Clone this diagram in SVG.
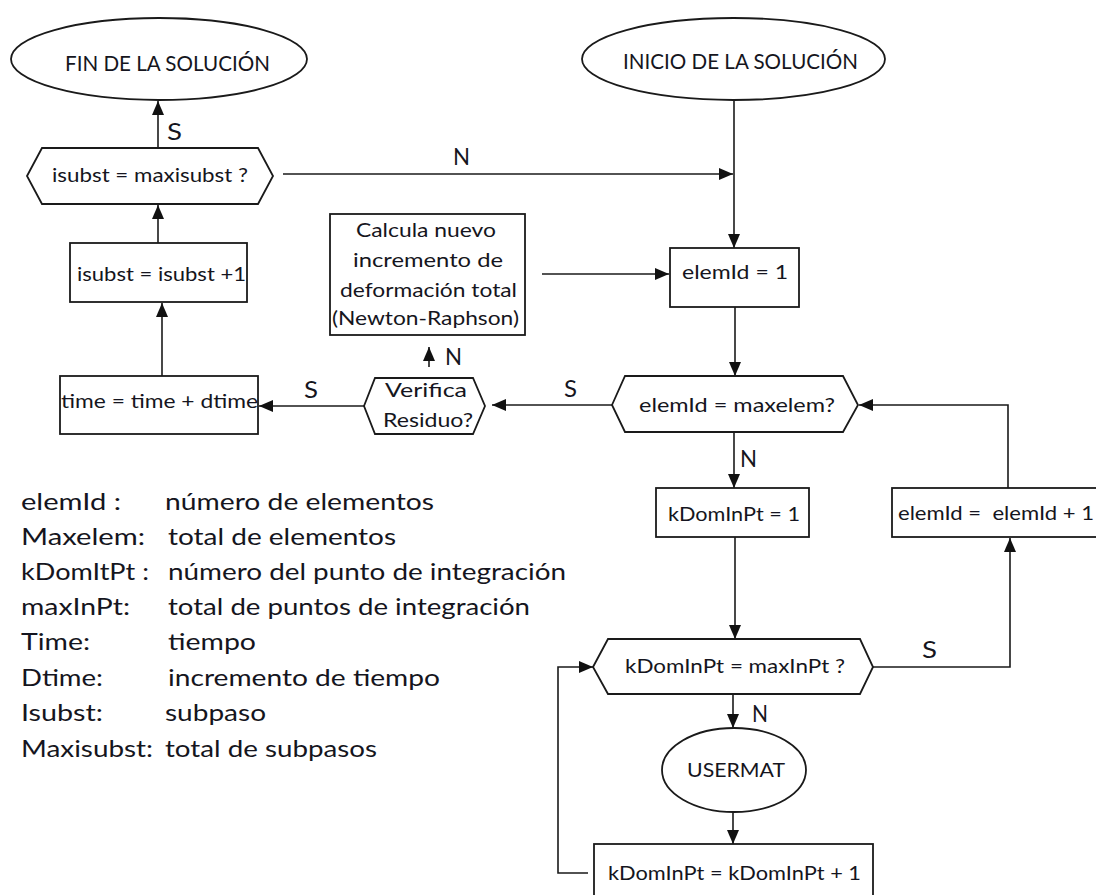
<svg xmlns="http://www.w3.org/2000/svg" width="1096" height="895" viewBox="0 0 1096 895">
<style>
.shape{fill:#fff;stroke:#1a1a1a;stroke-width:1.8}
.conn{fill:none;stroke:#1a1a1a;stroke-width:1.6}
text{font-family:Lato,"Open Sans","Liberation Sans",sans-serif;fill:#151520}
.t{font-size:20px;text-anchor:middle}
.big{font-size:22px;text-anchor:middle}
.lbl{font-size:24px}
.leg{font-size:23px}
</style>
<defs>
<marker id="ah" markerWidth="14" markerHeight="12" refX="14" refY="6" orient="auto" markerUnits="userSpaceOnUse">
<path d="M0,0 L14,6 L0,12 z" fill="#111"/>
</marker>
</defs>
<rect width="1096" height="895" fill="#fff"/>
<g id="connectors">
<path class="conn" d="M734,100 V248" marker-end="url(#ah)"/>
<path class="conn" d="M283,174 H733" marker-end="url(#ah)"/>
<path class="conn" d="M158,148 V101" marker-end="url(#ah)"/>
<path class="conn" d="M158,243 V205" marker-end="url(#ah)"/>
<path class="conn" d="M162,376 V303" marker-end="url(#ah)"/>
<path class="conn" d="M364,406 H259" marker-end="url(#ah)"/>
<path class="conn" d="M612,405 H492" marker-end="url(#ah)"/>
<path class="conn" d="M429,367 V347" marker-end="url(#ah)"/>
<path class="conn" d="M542,274 H669" marker-end="url(#ah)"/>
<path class="conn" d="M735,307 V376" marker-end="url(#ah)"/>
<path class="conn" d="M734,432 V488" marker-end="url(#ah)"/>
<path class="conn" d="M735,537 V639" marker-end="url(#ah)"/>
<path class="conn" d="M873,667 H1010 V538" marker-end="url(#ah)"/>
<path class="conn" d="M1008,488 V405 H859" marker-end="url(#ah)"/>
<path class="conn" d="M733,694 V728" marker-end="url(#ah)"/>
<path class="conn" d="M733,812 V844" marker-end="url(#ah)"/>
<path class="conn" d="M588,873 H558 V667 H593" marker-end="url(#ah)"/>
<text class="lbl" x="167" y="140" textLength="15" lengthAdjust="spacingAndGlyphs">S</text>
<text class="lbl" x="453" y="165" textLength="17" lengthAdjust="spacingAndGlyphs">N</text>
<text class="lbl" x="304" y="398" textLength="14" lengthAdjust="spacingAndGlyphs">S</text>
<text class="lbl" x="445" y="365" textLength="17" lengthAdjust="spacingAndGlyphs">N</text>
<text class="lbl" x="564" y="397" textLength="13" lengthAdjust="spacingAndGlyphs">S</text>
<text class="lbl" x="740" y="467" textLength="17" lengthAdjust="spacingAndGlyphs">N</text>
<text class="lbl" x="922" y="658" textLength="15" lengthAdjust="spacingAndGlyphs">S</text>
<text class="lbl" x="752" y="722" textLength="16" lengthAdjust="spacingAndGlyphs">N</text>
</g>
<g id="fin">
<ellipse class="shape" cx="159" cy="59" rx="148" ry="41"/>
<text class="big" x="167.5" y="71" textLength="205" lengthAdjust="spacingAndGlyphs">FIN DE LA SOLUCIÓN</text>
</g>
<g id="inicio">
<ellipse class="shape" cx="733.5" cy="59" rx="151.5" ry="41"/>
<text class="big" x="740.5" y="69" textLength="235" lengthAdjust="spacingAndGlyphs">INICIO DE LA SOLUCIÓN</text>
</g>
<g id="check-subst">
<polygon class="shape" points="27,176 42,148 258,148 273,176 258,204 42,204"/>
<text class="t" x="150" y="182" textLength="196" lengthAdjust="spacingAndGlyphs">isubst = maxisubst ?</text>
</g>
<g id="inc-subst">
<rect class="shape" x="70" y="243" width="177" height="59"/>
<text class="t" x="161.5" y="281" textLength="169" lengthAdjust="spacingAndGlyphs">isubst = isubst +1</text>
</g>
<g id="inc-time">
<rect class="shape" x="60" y="376" width="198" height="58"/>
<text class="t" x="159.5" y="408" textLength="197" lengthAdjust="spacingAndGlyphs">time = time + dtime</text>
</g>
<g id="newton">
<rect class="shape" x="330" y="214" width="195" height="121"/>
<text class="t" x="426" y="237" textLength="140" lengthAdjust="spacingAndGlyphs">Calcula nuevo</text>
<text class="t" x="428" y="267" textLength="150" lengthAdjust="spacingAndGlyphs">incremento de</text>
<text class="t" x="428.5" y="297" textLength="177" lengthAdjust="spacingAndGlyphs">deformación total</text>
<text class="t" x="425.5" y="325" textLength="187" lengthAdjust="spacingAndGlyphs">(Newton-Raphson)</text>
</g>
<g id="verifica">
<polygon class="shape" points="364,406 375,378 473,378 485,406 473,434 375,434"/>
<text class="t" x="426" y="397" textLength="82" lengthAdjust="spacingAndGlyphs">Verifica</text>
<text class="t" x="428" y="427" textLength="90" lengthAdjust="spacingAndGlyphs">Residuo?</text>
</g>
<g id="elem-init">
<rect class="shape" x="670" y="248" width="129" height="59"/>
<text class="t" x="735" y="279" textLength="106" lengthAdjust="spacingAndGlyphs">elemId = 1</text>
</g>
<g id="check-elem">
<polygon class="shape" points="612,405 625,376 843,376 858,405 843,432 625,432"/>
<text class="t" x="737" y="412" textLength="196" lengthAdjust="spacingAndGlyphs">elemId = maxelem?</text>
</g>
<g id="kdom-init">
<rect class="shape" x="656" y="488" width="153" height="49"/>
<text class="t" x="734" y="521" textLength="132" lengthAdjust="spacingAndGlyphs">kDomInPt = 1</text>
</g>
<g id="elem-inc">
<rect class="shape" x="892" y="488" width="215" height="49"/>
<text class="t" x="996" y="520" textLength="196" lengthAdjust="spacingAndGlyphs" style="white-space:pre">elemId =  elemId + 1</text>
</g>
<g id="check-kdom">
<polygon class="shape" points="593,667 608,639 860,639 873,667 860,694 608,694"/>
<text class="t" x="735" y="673" textLength="220" lengthAdjust="spacingAndGlyphs">kDomInPt = maxInPt ?</text>
</g>
<g id="usermat">
<ellipse class="shape" cx="734" cy="770" rx="72" ry="42"/>
<text class="t" x="736" y="777" textLength="98" lengthAdjust="spacingAndGlyphs">USERMAT</text>
</g>
<g id="kdom-inc">
<rect class="shape" x="594" y="844" width="279" height="60"/>
<text class="t" x="734.5" y="880" textLength="253" lengthAdjust="spacingAndGlyphs">kDomInPt = kDomInPt + 1</text>
</g>
<g id="legend">
<text class="leg" x="21" y="510" textLength="100" lengthAdjust="spacingAndGlyphs">elemId :</text>
<text class="leg" x="165" y="510" textLength="269" lengthAdjust="spacingAndGlyphs">número de elementos</text>
<text class="leg" x="21" y="545" textLength="124" lengthAdjust="spacingAndGlyphs">Maxelem:</text>
<text class="leg" x="168" y="545" textLength="228" lengthAdjust="spacingAndGlyphs">total de elementos</text>
<text class="leg" x="21" y="580" textLength="128" lengthAdjust="spacingAndGlyphs">kDomItPt :</text>
<text class="leg" x="168" y="580" textLength="398" lengthAdjust="spacingAndGlyphs">número del punto de integración</text>
<text class="leg" x="21" y="615" textLength="109" lengthAdjust="spacingAndGlyphs">maxInPt:</text>
<text class="leg" x="168" y="615" textLength="362" lengthAdjust="spacingAndGlyphs">total de puntos de integración</text>
<text class="leg" x="21" y="650" textLength="69" lengthAdjust="spacingAndGlyphs">Time:</text>
<text class="leg" x="168" y="650" textLength="88" lengthAdjust="spacingAndGlyphs">tiempo</text>
<text class="leg" x="21" y="686" textLength="82" lengthAdjust="spacingAndGlyphs">Dtime:</text>
<text class="leg" x="168" y="686" textLength="272" lengthAdjust="spacingAndGlyphs">incremento de tiempo</text>
<text class="leg" x="21" y="721" textLength="82" lengthAdjust="spacingAndGlyphs">Isubst:</text>
<text class="leg" x="165" y="721" textLength="101" lengthAdjust="spacingAndGlyphs">subpaso</text>
<text class="leg" x="21" y="757" textLength="132" lengthAdjust="spacingAndGlyphs">Maxisubst:</text>
<text class="leg" x="165" y="757" textLength="212" lengthAdjust="spacingAndGlyphs">total de subpasos</text>
</g>
</svg>
